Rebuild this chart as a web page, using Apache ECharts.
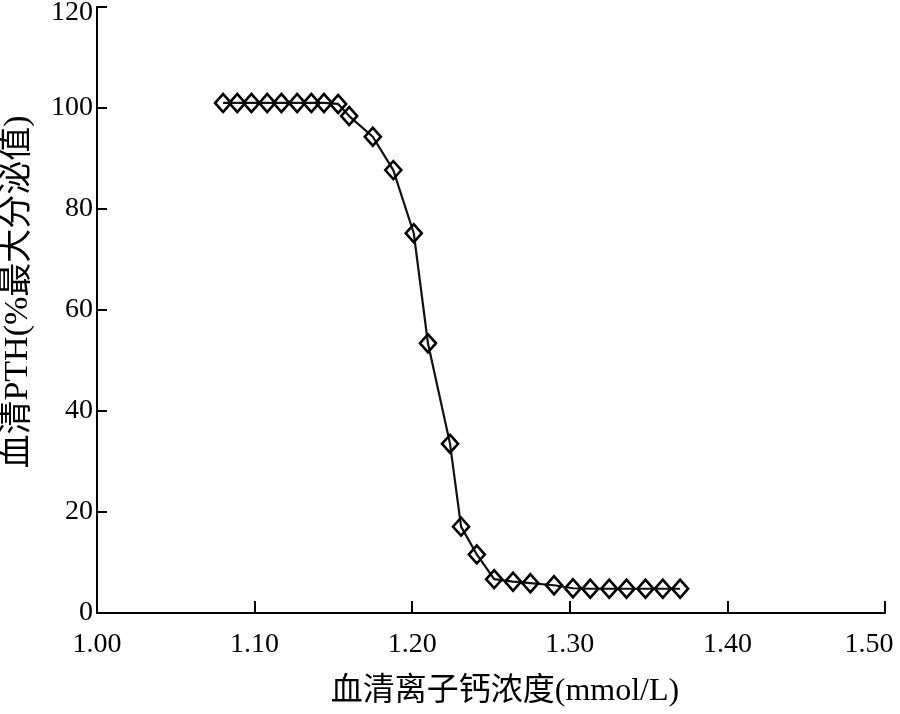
<!DOCTYPE html>
<html>
<head>
<meta charset="utf-8">
<script src="https://cdn.jsdelivr.net/npm/echarts@6/dist/echarts.min.js"></script>
<style>
html,body{margin:0;padding:0;background:#fff;}
#c{width:900px;height:714px;}
</style>
</head>
<body>
<div id="c"></div>
<script>
// Serum ionized calcium (mmol/L)
var calcium = [1.080, 1.089, 1.098, 1.108, 1.117, 1.127, 1.136, 1.144, 1.153, 1.160, 1.175, 1.188, 1.201, 1.210, 1.224, 1.231, 1.241, 1.252, 1.264, 1.275, 1.290, 1.302, 1.313, 1.325, 1.336, 1.348, 1.359, 1.370];
// Serum PTH (% of maximal secretion)
var pth = [101, 101, 101, 101, 101, 101, 101, 101, 100.8, 98.4, 94.3, 87.7, 75.2, 53.4, 33.5, 17.1, 11.6, 6.7, 6.2, 5.9, 5.5, 4.9, 4.8, 4.8, 4.8, 4.8, 4.8, 4.8];
var xTicks = {min: 1.0, max: 1.5, interval: 0.1};
var yTicks = {min: 0, max: 120, interval: 20};
var xName = '血清离子钙浓度(mmol/L)';
var yName = '血清PTH(%最大分泌值)';

var font = '"Liberation Serif", "Noto Sans CJK SC", serif';
var labelStyle = {fontFamily: font, fontSize: 28, color: '#000'};
var chart = echarts.init(document.getElementById('c'));
chart.setOption({
  animation: false,
  backgroundColor: '#fff',
  grid: {left: 97, top: 7, width: 788, height: 606, containLabel: false, outerBoundsMode: 'none'},
  xAxis: {
    type: 'value',
    min: xTicks.min, max: xTicks.max, interval: xTicks.interval,
    name: xName,
    nameLocation: 'middle',
    nameGap: 63,
    nameTextStyle: {fontFamily: font, fontSize: 32, color: '#000', padding: [0, 0, 0, 28]},
    axisLine: {lineStyle: {color: '#000', width: 2}},
    axisTick: {inside: true, length: 12, lineStyle: {color: '#000', width: 2}},
    axisLabel: {fontFamily: font, fontSize: 28, color: '#000', margin: 18,
      formatter: function (v) {
        var s = v.toFixed(2);
        return v >= xTicks.max - 1e-9 ? '{r|' + s + '}' : s;
      },
      rich: {r: Object.assign({padding: [0, 32, 0, 0]}, labelStyle)}},
    splitLine: {show: false}
  },
  yAxis: {
    type: 'value',
    min: yTicks.min, max: yTicks.max, interval: yTicks.interval,
    name: yName,
    nameLocation: 'middle',
    nameGap: 62,
    nameRotate: 90,
    nameTextStyle: {fontFamily: font, fontSize: 34, color: '#000', padding: [0, 0, 0, 36]},
    axisLine: {show: true, lineStyle: {color: '#000', width: 2}},
    axisTick: {show: true, inside: true, length: 10, lineStyle: {color: '#000', width: 2}},
    axisLabel: {fontFamily: font, fontSize: 28, color: '#000', margin: 4,
      formatter: function (v) {
        return v >= yTicks.max ? '{t|' + v + '}' : String(v);
      },
      rich: {t: Object.assign({padding: [12, 0, 0, 0]}, labelStyle)}},
    splitLine: {show: false}
  },
  series: [{
    type: 'line',
    data: calcium.map(function (x, i) { return [x, pth[i]]; }),
    symbol: 'diamond',
    symbolSize: [16, 18],
    showAllSymbol: true,
    lineStyle: {color: '#111', width: 2.2},
    itemStyle: {color: 'rgba(255,255,255,0)', borderColor: '#000', borderWidth: 2.6},
    z: 3
  }]
});
</script>
</body>
</html>
